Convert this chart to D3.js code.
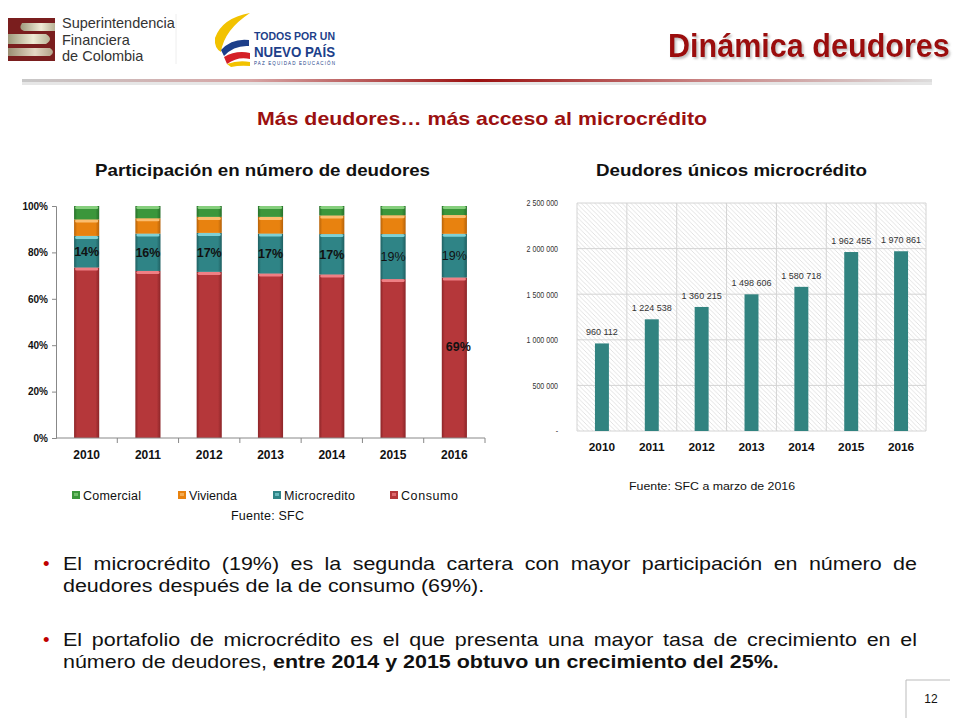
<!DOCTYPE html>
<html><head><meta charset="utf-8">
<script src="https://cdn.jsdelivr.net/npm/d3@7"></script>
<style>
html,body{margin:0;padding:0;background:#fff;}
#wrap{position:relative;width:960px;height:720px;overflow:hidden;font-family:"Liberation Sans",Arial,sans-serif;}
svg{position:absolute;left:0;top:0;font-family:"Liberation Sans",Arial,sans-serif;}
</style></head>
<body><div id="wrap"><svg id="svg" width="960" height="720"></svg></div>
<script>
// ---- Data ----
const years = ["2010","2011","2012","2013","2014","2015","2016"];
const consumo     = [73.5, 72.0, 71.6, 70.9, 70.5, 68.5, 69.2];
const microcredito= [13.6, 16.1, 16.8, 17.2, 17.4, 19.4, 18.8];
const vivienda    = [ 7.1,  6.6,  6.9,  7.2,  8.0,  8.1,  8.1];
const comercial   = [ 5.8,  5.3,  4.7,  4.7,  4.1,  4.0,  3.9];
const seriesNames = ["Consumo","Microcredito","Vivienda","Comercial"];
const legendOrder = ["Comercial","Vivienda","Microcredito","Consumo"];
const pctTicks = [0, 0.2, 0.4, 0.6, 0.8, 1.0];
const deudores = [960112, 1224538, 1360215, 1498606, 1580718, 1962455, 1970861];
const deudTicks = [0, 500000, 1000000, 1500000, 2000000, 2500000];
const bulletLines = [
  {parts:[["El microcrédito (19%) es la segunda cartera con mayor participación en número de",false]], just:true, bullet:true},
  {parts:[["deudores después de la de consumo (69%).",false]], just:false, bullet:false},
  {parts:[["El portafolio de microcrédito es el que presenta una mayor tasa de crecimiento en el",false]], just:true, bullet:true},
  {parts:[["número de deudores, ",false],["entre 2014 y 2015 obtuvo un crecimiento del 25%.",true]], just:false, bullet:false}
];

const svg = d3.select("#svg");
const defs = svg.append("defs");
const sh = defs.append("filter").attr("id","tshadow").attr("x","-5%").attr("y","-20%").attr("width","115%").attr("height","150%");
sh.append("feDropShadow").attr("dx",2).attr("dy",2).attr("stdDeviation",1.2).attr("flood-color","#777").attr("flood-opacity",0.45);

// ---- Header ----
const hg = defs.append("linearGradient").attr("id","hline").attr("x1","0").attr("x2","1");
[[0,"#c8c8c8"],[0.25,"#d7a5a5"],[0.5,"#9b1010"],[0.75,"#c98585"],[1,"#dcdcdc"]].forEach(s=>hg.append("stop").attr("offset",s[0]).attr("stop-color",s[1]));
svg.append("rect").attr("x",22).attr("y",82).attr("width",910).attr("height",3).attr("fill","#e6e6e6");
svg.append("rect").attr("x",22).attr("y",79).attr("width",910).attr("height",3).attr("fill","url(#hline)");

// SFC logo
const lg = svg.append("g");
lg.append("rect").attr("x",8).attr("y",18).attr("width",47).attr("height",43).attr("fill","#7a1e1e");
const sg = defs.append("linearGradient").attr("id","sgr").attr("x1","0").attr("x2","1");
sg.append("stop").attr("offset",0).attr("stop-color","#9e9a7c");
sg.append("stop").attr("offset",0.6).attr("stop-color","#f0ecd6");
sg.append("stop").attr("offset",1).attr("stop-color","#b8b295");
lg.append("path").attr("d","M22,23 L55,23 L55,31 L24,31 Q18,29 22,23 Z").attr("fill","url(#sgr)");
lg.append("path").attr("d","M8,34 L46,34 Q54,39 46,44 L8,44 Z").attr("fill","url(#sgr)");
lg.append("path").attr("d","M8,48 L50,48 Q56,52 50,56 L8,56 Z").attr("fill","url(#sgr)").attr("opacity",0.9);
lg.selectAll("text.l").data(["Superintendencia","Financiera","de Colombia"]).join("text")
  .attr("x",62).attr("y",(d,i)=>28+i*16.5).attr("font-size",14.5).attr("fill","#333").text(d=>d);
svg.append("line").attr("x1",176).attr("x2",176).attr("y1",14).attr("y2",64).attr("stroke","#eee");

// Nuevo pais logo
const np = svg.append("g");
np.append("path").attr("d","M250,13 Q222,18 215,38 Q214,48 221,52 Q224,30 250,13 Z").attr("fill","#f2c200");
np.append("path").attr("d","M221,50 Q232,38 249,40 L249,46 Q234,45 224,56 Z").attr("fill","#1d3f8a");
np.append("path").attr("d","M224,57 Q236,50 250,53 L250,59 Q238,56 227,64 Z").attr("fill","#d42027");
np.append("path").attr("d","M227,64 Q238,60 250,62 L250,66 Q240,65 231,67 Z").attr("fill","#f2c200");
np.append("text").attr("x",254).attr("y",39.5).attr("font-size",11.5).attr("font-weight","bold").attr("fill","#1d3f8a").attr("textLength",81).attr("lengthAdjust","spacingAndGlyphs").text("TODOS POR UN");
np.append("text").attr("x",254).attr("y",57).attr("font-size",15.5).attr("font-weight","bold").attr("fill","#1d3f8a").attr("textLength",81).attr("lengthAdjust","spacingAndGlyphs").text("NUEVO PAÍS");
np.append("text").attr("x",254).attr("y",65).attr("font-size",4.5).attr("fill","#1d3f8a").attr("textLength",81).text("PAZ   EQUIDAD   EDUCACIÓN");

// Title (horizontally condensed to mimic a narrow face)
const tG = svg.append("g");
const tT = tG.append("text").attr("x",0).attr("y",0).attr("font-size",34).attr("font-weight","bold")
  .attr("filter","url(#tshadow)").attr("fill","#9b0d0d").text("Dinámica deudores");
const tW = tT.node().getComputedTextLength();
tG.attr("transform",`translate(668,57) scale(${282/tW},1)`);

// Subtitle and chart titles
svg.append("text").attr("x",257).attr("y",125).attr("font-size",18.6).attr("font-weight","bold").attr("fill","#9b1010")
  .attr("textLength",450).attr("lengthAdjust","spacingAndGlyphs").text("Más deudores… más acceso al microcrédito");
svg.append("text").attr("x",95).attr("y",176).attr("font-size",16.3).attr("font-weight","bold").attr("fill","#111")
  .attr("textLength",335).attr("lengthAdjust","spacingAndGlyphs").text("Participación en número de deudores");
svg.append("text").attr("x",596).attr("y",176).attr("font-size",16.3).attr("font-weight","bold").attr("fill","#111")
  .attr("textLength",271).attr("lengthAdjust","spacingAndGlyphs").text("Deudores únicos microcrédito");

// ---- Left stacked chart ----
const colors = {Consumo:"#b5373a", Microcredito:"#2f8486", Vivienda:"#e8820f", Comercial:"#3b963b"};
const tops = {Consumo:"#ef7f84", Microcredito:"#7fd0d4", Vivienda:"#fbbd6e", Comercial:"#86cf7d"};
const darks = {Consumo:"#8c2528", Microcredito:"#1f5f61", Vivienda:"#b5620a", Comercial:"#27702a"};
seriesNames.forEach(n=>{
  const g = defs.append("linearGradient").attr("id","g"+n).attr("x1","0").attr("x2","1");
  [[0,darks[n]],[0.12,colors[n]],[0.85,colors[n]],[1,darks[n]]].forEach(s=>g.append("stop").attr("offset",s[0]).attr("stop-color",s[1]));
});
const table = years.map((y,i)=>({year:y, Consumo:consumo[i]/100, Microcredito:microcredito[i]/100, Vivienda:vivienda[i]/100, Comercial:comercial[i]/100}));
const stack = d3.stack().keys(seriesNames)(table);
const xL = d3.scaleBand().domain(years).range([56,485]).paddingInner(0.59).paddingOuter(0.295);
const yL = d3.scaleLinear().domain([0,1]).range([438,206]);
const L = svg.append("g");
stack.forEach(s=>{
  const gs = L.append("g");
  gs.selectAll("rect.seg").data(s).join("rect")
    .attr("x",d=>xL(d.data.year)).attr("width",xL.bandwidth())
    .attr("y",d=>yL(d[1])).attr("height",d=>yL(d[0])-yL(d[1]))
    .attr("fill","url(#g"+s.key+")");
  gs.selectAll("rect.top").data(s).join("rect")
    .attr("x",d=>xL(d.data.year)+1).attr("width",xL.bandwidth()-2)
    .attr("y",d=>yL(d[1])).attr("height",3).attr("rx",1.5)
    .attr("fill",tops[s.key]);
});
const yAxL = d3.axisLeft(yL).tickValues(pctTicks).tickFormat(d3.format(".0%")).tickSize(4).tickPadding(4);
const gyl = L.append("g").attr("transform","translate(56,0)").call(yAxL);
gyl.selectAll("text").attr("font-size",10).attr("font-weight","bold").attr("fill","#111").attr("font-family","'Liberation Sans',Arial,sans-serif");
gyl.selectAll("line,path").attr("stroke","#888");
const gxl = L.append("g").attr("transform","translate(0,438)");
gxl.append("line").attr("x1",56).attr("x2",485).attr("stroke","#888");
gxl.selectAll("line.t").data(d3.range(years.length)).join("line")
  .attr("x1",i=>56+xL.step()*(i+1)).attr("x2",i=>56+xL.step()*(i+1)).attr("y1",0).attr("y2",5).attr("stroke","#888");
gxl.selectAll("text").data(years).join("text").attr("x",d=>xL(d)+xL.bandwidth()/2).attr("y",21)
  .attr("text-anchor","middle").attr("font-size",12).attr("font-weight","bold").attr("fill","#111").text(d=>d);
// micro labels
const microS = stack[1];
L.selectAll("text.ml").data(microS).join("text")
  .attr("x",d=>xL(d.data.year)+xL.bandwidth()/2).attr("y",d=>(yL(d[0])+yL(d[1]))/2+4.5)
  .attr("text-anchor","middle").attr("font-size",12.5).attr("font-weight",(d,i)=>i<5?"bold":"normal").attr("fill","#111")
  .text(d=>d3.format(".0%")(d[1]-d[0]));
// consumo label last year
const cLast = stack[0][years.length-1];
L.append("text").attr("x",xL(cLast.data.year)+xL.bandwidth()/2+4).attr("y",(yL(cLast[0])+yL(cLast[1]))/2-7)
  .attr("text-anchor","middle").attr("font-size",12.5).attr("font-weight","bold").attr("fill","#111").text(d3.format(".0%")(cLast[1]-cLast[0]));
// legend
const legX = {Comercial:72, Vivienda:178, Microcredito:273, Consumo:390};
const legW = {Comercial:58, Vivienda:48, Microcredito:71, Consumo:57};
const lgG = L.selectAll("g.leg").data(legendOrder).join("g").attr("transform",d=>`translate(${legX[d]},495)`);
lgG.append("rect").attr("x",0).attr("y",-4).attr("width",8).attr("height",8).attr("fill",d=>colors[d]);
lgG.append("rect").attr("x",2).attr("y",-2).attr("width",4).attr("height",3).attr("fill",d=>tops[d]).attr("opacity",0.7);
lgG.append("text").attr("x",11).attr("y",4.5).attr("font-size",12.5).attr("fill","#111")
  .attr("textLength",d=>legW[d]).attr("lengthAdjust","spacing").text(d=>d);
svg.append("text").attr("x",231).attr("y",520).attr("font-size",12.5).attr("fill","#111")
  .attr("textLength",73).attr("lengthAdjust","spacing").text("Fuente: SFC");

// ---- Right chart ----
const pat = defs.append("pattern").attr("id","hatch").attr("patternUnits","userSpaceOnUse").attr("width",4.5).attr("height",4.5);
pat.append("path").attr("d","M-1,-1 L5.5,5.5 M3.5,-1 L5.5,1 M-1,3.5 L1,5.5").attr("stroke","#d6d6d6").attr("stroke-width",0.7);
const xR = d3.scaleBand().domain(years).range([577,926]).paddingInner(0.72).paddingOuter(0.36);
const yR = d3.scaleLinear().domain([0,2500000]).range([431,203]);
const R = svg.append("g");
R.append("rect").attr("x",577).attr("y",203).attr("width",349).attr("height",228).attr("fill","url(#hatch)");
R.selectAll("line.h").data(deudTicks).join("line").attr("x1",577).attr("x2",926).attr("y1",d=>yR(d)).attr("y2",d=>yR(d)).attr("stroke","#d4d4d4");
R.selectAll("line.v").data(d3.range(years.length+1)).join("line")
  .attr("x1",i=>577+xR.step()*i).attr("x2",i=>577+xR.step()*i).attr("y1",203).attr("y2",431).attr("stroke","#d4d4d4");
R.selectAll("rect.b").data(deudores).join("rect")
  .attr("x",(d,i)=>xR(years[i])).attr("width",xR.bandwidth()).attr("y",d=>yR(d)).attr("height",d=>yR(0)-yR(d)).attr("fill","#318380");
const fmt = d=>d3.format(",")(d).replace(/,/g," ");
R.selectAll("text.v").data(deudores).join("text")
  .attr("x",(d,i)=>xR(years[i])+xR.bandwidth()/2).attr("y",d=>yR(d)-8)
  .attr("text-anchor","middle").attr("font-size",9).attr("fill","#333").text(fmt);
const gyr = R.append("g").attr("transform","translate(577,0)").call(d3.axisLeft(yR).tickValues(deudTicks).tickSize(0).tickPadding(19).tickFormat(d=>d===0?"-":fmt(d)));
gyr.select("path").remove();
gyr.selectAll("text").attr("font-size",9.3).attr("fill","#333").attr("font-family","'Liberation Sans',Arial,sans-serif")
  .each(function(){ const w=this.getComputedTextLength(); d3.select(this).attr("textLength",w*0.76).attr("lengthAdjust","spacingAndGlyphs"); });
R.selectAll("text.x").data(years).join("text").attr("x",d=>xR(d)+xR.bandwidth()/2).attr("y",451)
  .attr("text-anchor","middle").attr("font-size",11.8).attr("font-weight","bold").attr("fill","#111").text(d=>d);
svg.append("text").attr("x",629).attr("y",490).attr("font-size",11).attr("fill","#111")
  .attr("textLength",166).attr("lengthAdjust","spacingAndGlyphs").text("Fuente: SFC a marzo de 2016");

// ---- Bullets (justified, slightly widened like the slide) ----
const bx = 63, bTarget = 854, sx = 1.15, bY = [570, 592, 646, 668];
bulletLines.forEach((ln,i)=>{
  const g = svg.append("g").attr("transform",`translate(${bx},${bY[i]}) scale(${sx},1)`);
  const t = g.append("text").attr("x",0).attr("y",0).attr("font-size",18.67).attr("fill","#111");
  ln.parts.forEach(p=>t.append("tspan").attr("font-weight",p[1]?"bold":"normal").text(p[0]));
  if(ln.just){
    const nat = t.node().getComputedTextLength();
    const gaps = ln.parts.map(p=>p[0]).join("").split(" ").length-1;
    t.attr("word-spacing",(bTarget/sx-nat)/gaps);
  }
  if(ln.bullet) svg.append("text").attr("x",43).attr("y",bY[i]).attr("font-size",18.67).attr("fill","#c00000").text("•");
});

// page number
svg.append("path").attr("d","M950,680 L906,680 L906,718").attr("fill","none").attr("stroke","#bbb");
svg.append("text").attr("x",931).attr("y",703).attr("text-anchor","middle").attr("font-size",12).attr("fill","#111").text("12");
</script></body></html>
